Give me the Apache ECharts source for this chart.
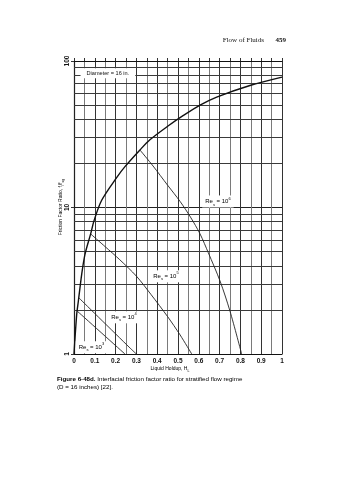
<!DOCTYPE html>
<html><head><meta charset="utf-8">
<script src="https://cdn.jsdelivr.net/npm/echarts@6/dist/echarts.min.js"></script>
<style>html,body{margin:0;padding:0;background:#fff}#c{width:338px;height:480px}</style>
</head><body><div id="c"></div>
<script>
// ---- data ----
const xTickLabels = ['0','0.1','0.2','0.3','0.4','0.5','0.6','0.7','0.8','0.9','1'];
const yTickLabels = [1, 10, 100];
const yGridValues = [1,2,3,4,5,6,7,8,9,10,20,30,40,50,60,70,80,90,100];

const envelopeX = [0,0.013,0.021,0.037,0.053,0.08,0.096,0.133,0.205,0.245,0.317,0.365,0.452,0.526,0.606,0.686,0.846,1];
const envelopeY = [1,1.86,2.3,3.5,4.8,6.6,8.1,11.2,16,19,24.7,29,36,42.5,50,56.7,68,77.6];

const re6X = [0.317,0.38,0.45,0.51,0.56,0.606,0.646,0.702,0.75,0.806];
const re6Y = [24.7,19.2,14.2,11.0,8.6,6.6,4.9,3.15,1.96,1];

const re5X = [0.08,0.15,0.22,0.30,0.37,0.45,0.51,0.566];
const re5Y = [6.6,5.4,4.4,3.4,2.55,1.8,1.35,1];

const re4X = [0.023,0.269,0.3];
const re4Y = [2.42,1.1,1];

const re3X = [0.016,0.245];
const re3Y = [1.96,1];

const reExponents = ['6','5','4','3'];
const diameterText = 'Diameter = 16 in.';

// ---- chart ----
const zip = (xs, ys) => xs.map((x, i) => [x, ys[i]]);
const chart = echarts.init(document.getElementById('c'), null, {renderer: 'canvas'});
const G = {left: 74, right: 56, top: 61, bottom: 126};
const minorVals = yGridValues.filter(v => yTickLabels.indexOf(v) < 0);

const curve = (data, w, color) => ({
  type: 'line', data, showSymbol: false, symbol: 'none', smooth: 0.3,
  lineStyle: {color, width: w}, silent: true, z: 5, animation: false
});

chart.setOption({
  animation: false,
  backgroundColor: '#fff',
  grid: G,
  xAxis: [{
    type: 'value', min: 0, max: 1, interval: 0.05,
    axisLine: {lineStyle: {color: '#111', width: 1.2}},
    axisTick: {show: false},
    splitLine: {show: true, lineStyle: {color: ['#333', '#7a7a7a'], width: 1}},
    axisLabel: {
      margin: 4, color: '#111', fontFamily: 'Liberation Sans', fontWeight: 'bold', fontSize: 6.5,
      formatter: v => { const i = Math.round(v * 20); return i % 2 === 0 ? xTickLabels[i / 2] : ''; }
    }
  }, {
    type: 'value', min: 0, max: 1, interval: 0.05, position: 'top',
    axisLine: {show: true, lineStyle: {color: '#111', width: 1.2}},
    axisTick: {show: true, inside: false, length: 3, lineStyle: {color: '#333'}},
    axisLabel: {show: false}, splitLine: {show: false}
  }],
  yAxis: [{
    type: 'log', logBase: 10, min: 1, max: 100,
    axisLine: {show: true, lineStyle: {color: '#111', width: 1.2}},
    axisTick: {show: true, length: 3, lineStyle: {color: '#333'}},
    splitLine: {show: true, lineStyle: {color: '#222', width: 1}},
    axisLabel: {
      rotate: 90, margin: 3, color: '#111', fontFamily: 'Liberation Sans', fontWeight: 'bold', fontSize: 6.5,
      formatter: v => (yTickLabels.indexOf(Math.round(v)) >= 0 ? String(Math.round(v)) : '')
    }
  }, {
    type: 'log', logBase: 10, min: 1, max: 100, position: 'right',
    axisLine: {show: true, lineStyle: {color: '#222', width: 1}},
    axisTick: {show: false}, axisLabel: {show: false}, splitLine: {show: false}
  }],
  series: [
    {
      type: 'line', data: [], silent: true, animation: false,
      markLine: {
        silent: true, symbol: 'none', animation: false,
        label: {show: false},
        lineStyle: {color: '#3a3a3a', width: 1, type: 'solid'},
        data: minorVals.map(v => ({yAxis: v}))
      }
    },
    curve(zip(envelopeX, envelopeY), 1.4, '#111'),
    curve(zip(re6X, re6Y), 0.9, '#222'),
    curve(zip(re5X, re5Y), 0.9, '#222'),
    curve(zip(re4X, re4Y), 0.9, '#222'),
    curve(zip(re3X, re3Y), 0.9, '#222')
  ]
});

// ---- text overlays anchored in data space ----
const px = (x, y) => chart.convertToPixel({xAxisIndex: 0, yAxisIndex: 0}, [x, y]);
const reRich = {
  b: {fontSize: 6, fontFamily: 'Liberation Sans', color: '#111', lineHeight: 10, verticalAlign: 'middle'},
  sub: {fontSize: 4, fontFamily: 'Liberation Sans', color: '#111', lineHeight: 4, verticalAlign: 'bottom'},
  sup: {fontSize: 4, fontFamily: 'Liberation Sans', color: '#111', lineHeight: 4, verticalAlign: 'top'}
};
const reAnchors = [[0.692, 11.0], [0.442, 3.39], [0.24, 1.78], [0.084, 1.11]];
const graphics = reExponents.map((e, i) => {
  const p = px(reAnchors[i][0], reAnchors[i][1]);
  return {
    type: 'text', x: p[0], y: p[1], z: 50,
    style: {
      text: '{b|Re}{sub|s}{b| = 10}{sup|' + e + '}', rich: reRich,
      align: 'center', verticalAlign: 'middle', backgroundColor: '#fff', padding: [1, 3]
    }
  };
});
const dp = px(0.163, 82.4);
graphics.push({
  type: 'text', x: dp[0], y: dp[1], z: 50,
  style: {text: diameterText, font: '5.6px "Liberation Sans"', fill: '#111', align: 'center', verticalAlign: 'middle',
    backgroundColor: '#fff', padding: [2, 6]}
});
// header
graphics.push({type: 'text', x: 264, y: 40, style: {text: 'Flow of Fluids', font: '7px "Liberation Serif"', fill: '#111', align: 'right', verticalAlign: 'middle'}});
graphics.push({type: 'text', x: 286, y: 40, style: {text: '459', font: 'bold 7px "Liberation Serif"', fill: '#111', align: 'right', verticalAlign: 'middle'}});
// axis names
graphics.push({type: 'text', x: 170, y: 369, style: {
  text: '{b|Liquid Holdup, H}{sub|L}', align: 'center', verticalAlign: 'middle',
  rich: {b: {fontSize: 5, fontFamily: 'Liberation Sans', color: '#111', lineHeight: 8, verticalAlign: 'middle'},
         sub: {fontSize: 3.6, fontFamily: 'Liberation Sans', color: '#111', lineHeight: 3.6, verticalAlign: 'bottom'}}
}});
graphics.push({type: 'text', x: 61, y: 207, rotation: Math.PI / 2, style: {
  text: '{b|Friction Factor Ratio, f}{sub|i}{b|/f}{sub|sg}', align: 'center', verticalAlign: 'middle',
  rich: {b: {fontSize: 5, fontFamily: 'Liberation Sans', color: '#111', lineHeight: 8, verticalAlign: 'middle'},
         sub: {fontSize: 3.6, fontFamily: 'Liberation Sans', color: '#111', lineHeight: 3.6, verticalAlign: 'bottom'}}
}});
// caption
graphics.push({type: 'text', x: 57, y: 383, style: {
  text: '{h|Figure 6-48d.}{t| Interfacial friction factor ratio for stratified flow regime}\n{t|(D = 16 inches) [22].}',
  align: 'left', verticalAlign: 'middle',
  rich: {h: {fontSize: 6.2, fontWeight: 'bold', fontFamily: 'Liberation Sans', color: '#111', lineHeight: 8},
         t: {fontSize: 6.2, fontFamily: 'Liberation Sans', color: '#111', lineHeight: 8}}
}});
chart.setOption({graphic: graphics});
</script></body></html>
